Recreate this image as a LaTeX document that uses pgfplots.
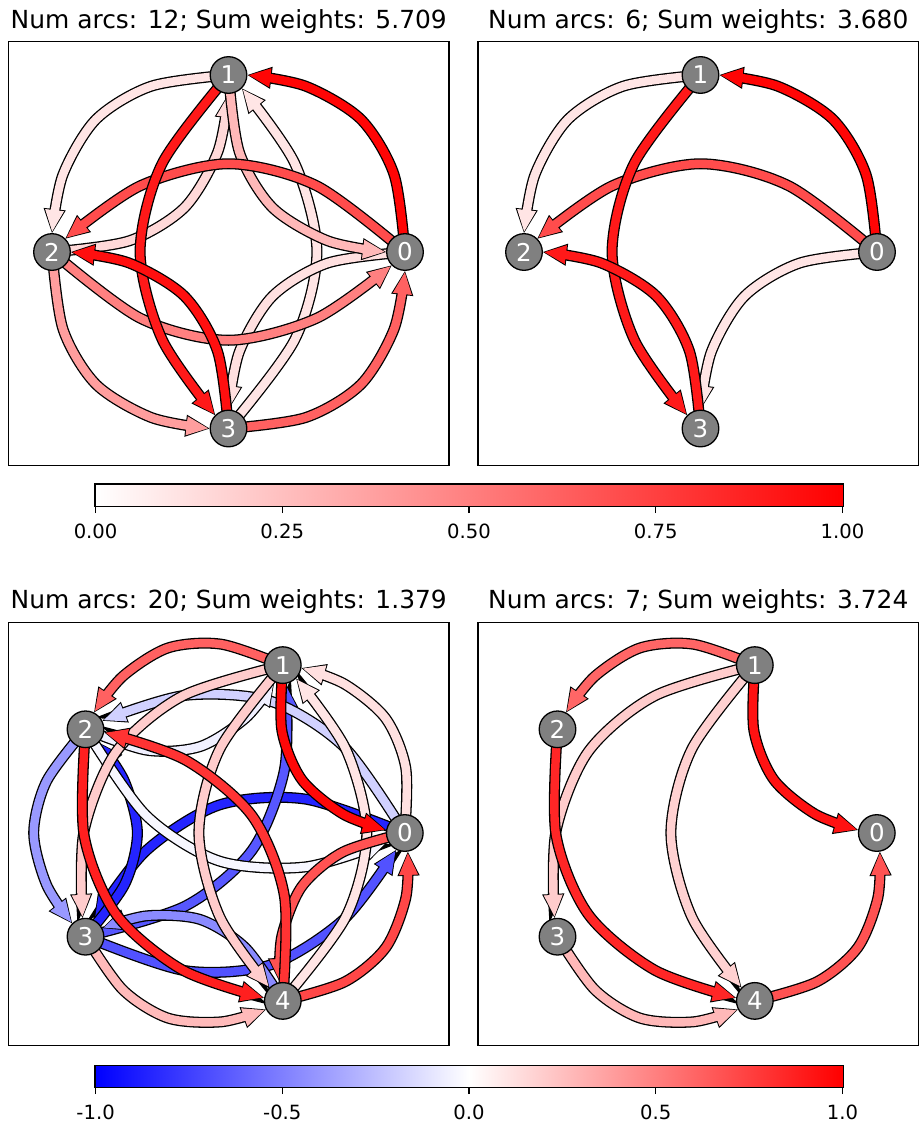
\documentclass[border=0pt]{standalone}
\usepackage{fontspec}
\setmainfont{DejaVu Sans}
\usepackage{pgfplots}
\pgfplotsset{compat=1.18}
\usetikzlibrary{arrows.meta}

\newcommand\titlefont{\fontsize{24.9}{29}\selectfont}
\newcommand\tickfont{\fontsize{19.6}{23}\selectfont}
\newcommand\nodefont{\fontsize{24.5}{29}\selectfont}

% one directed arc: #1 colour, #2 = points along the arc3 curve, ending at the node's rim
\newcommand{\arcplot}[2]{%
 \addplot[black, no markers, line width=11pt, smooth, tension=0.5,
   -{Triangle[length=24pt,width=22pt,color=black,fill=#1,line width=1.3pt]}] coordinates {#2};
 \addplot[#1, no markers, line width=8.4pt, smooth, tension=0.5, shorten >=1.5pt,
   -{Triangle[length=21.5pt,width=19pt,color=#1,fill=#1,line width=0pt]}] coordinates {#2};
}

\pgfplotsset{
 every axis title shift=0pt,
 panel/.style={scale only axis, width=440.5pt, height=423.4pt, y dir=reverse,
   xtick=\empty, ytick=\empty, axis line style={line width=1.2pt}, clip=false,
   title style={font=\titlefont, anchor=base, yshift=13.4pt}},
 gnode/.style={only marks, mark=*, mark size=18.3pt,
   mark options={fill=gray, draw=black, line width=1.3pt},
   nodes near coords, point meta=explicit symbolic,
   every node near coord/.append style={anchor=center, text=white, font=\nodefont}},
 cbar/.style={scale only axis, width=748pt, height=22pt, ymin=-0.03, ymax=1.03, ytick=\empty,
   xtick pos=bottom, tick align=outside, major tick length=7pt,
   tick style={black, line width=1.2pt}, axis line style={line width=1.2pt},
   xticklabel style={font=\tickfont, yshift=-7.5pt}}
}

\begin{document}
\begin{tikzpicture}
\useasboundingbox (0pt,0pt) rectangle (919pt,-1123pt);

% ---------------- panel 1 ----------------
\begin{axis}[panel, at={(8.5pt,-41.7pt)}, anchor=north west,
  xmin=8.5, xmax=449, ymin=41.7, ymax=465.1,
  title={Num arcs: 12; Sum weights: 5.709}]
\arcplot{red!10!white}{(228.5,75) (151.2,86.2) (96.0,119.4) (62.9,174.7) (52.0,233.0)}
\arcplot{red!10!white}{(228.5,428.5) (294.8,339.6) (316.9,251.75) (294.8,163.4) (242.0,88.5)}
\arcplot{red!12!white}{(405,252) (327.8,263.0) (272.6,296.1) (239.5,351.3) (228.5,409.5)}
\arcplot{red!15!white}{(52,252) (129.3,240.8) (184.5,207.6) (217.6,152.3) (228.5,94.0)}
\arcplot{red!28!white}{(228.5,75) (239.4,152.3) (272.5,207.6) (327.7,240.8) (386.0,252.0)}
\arcplot{red!38!white}{(52,252) (63.0,329.2) (96.1,384.4) (151.3,417.5) (209.5,428.5)}
\arcplot{red!50!white}{(52,252) (140.25,318.19) (228.5,340.25) (316.75,318.19) (391.6,265.4)}
\arcplot{red!62!white}{(228.5,428.5) (305.7,417.5) (360.9,384.4) (394.0,329.2) (405,271.0)}
\arcplot{red!70!white}{(405,252) (316.75,185.81) (228.5,163.75) (140.25,185.81) (65.4,238.6)}
\arcplot{red!90!white}{(228.5,75) (162.2,163.4) (140.1,251.75) (162.2,339.6) (215.1,415.1)}
\arcplot{red!94!white}{(228.5,428.5) (217.5,351.3) (184.4,296.1) (129.2,263.0) (71.0,252)}
\arcplot{red!98!white}{(405,252) (394.1,174.7) (361.0,119.4) (305.8,86.2) (247.5,75.0)}
\addplot[gnode] coordinates {(405,252) [0] (228.5,75) [1] (52,252) [2] (228.5,428.5) [3]};
\end{axis}

% ---------------- panel 2 ----------------
\begin{axis}[panel, at={(478pt,-41.7pt)}, anchor=north west,
  xmin=478, xmax=918.5, ymin=41.7, ymax=465.1,
  title={Num arcs: 6; Sum weights: 3.680}]
\arcplot{red!10!white}{(877,252) (799.8,263.0) (744.6,296.1) (711.5,351.3) (700.5,409.5)}
\arcplot{red!10!white}{(700.5,75) (623.2,86.2) (568.0,119.4) (534.9,174.7) (524.0,233.0)}
\arcplot{red!70!white}{(877,252) (788.75,185.81) (700.5,163.75) (612.25,185.81) (537.4,238.6)}
\arcplot{red!90!white}{(700.5,75) (634.2,163.4) (612.1,251.75) (634.2,339.6) (687.1,415.1)}
\arcplot{red!90!white}{(700.5,428.5) (689.5,351.3) (656.4,296.1) (601.2,263.0) (543.0,252)}
\arcplot{red!98!white}{(877,252) (866.1,174.7) (833.0,119.4) (777.8,86.2) (719.5,75.0)}
\addplot[gnode] coordinates {(877,252) [0] (700.5,75) [1] (524,252) [2] (700.5,428.5) [3]};
\end{axis}

% ---------------- colour bar 1 ----------------
\begin{axis}[cbar, at={(95pt,-484pt)}, anchor=north west,
  xmin=-0.0008, xmax=1.0008, xtick={0,0.25,0.5,0.75,1},
  xticklabels={0.00,0.25,0.50,0.75,1.00},
  colormap={wr}{rgb=(1,1,1) rgb=(1,0,0)}]
\addplot[surf, shader=interp, point meta=x, mesh/cols=2] coordinates {(0,0) (1,0) (0,1) (1,1)};
\end{axis}

% ---------------- panel 3 ----------------
\begin{axis}[panel, at={(8.5pt,-622.3pt)}, anchor=north west,
  xmin=8.5, xmax=449, ymin=622.3, ymax=1045.7,
  title={Num arcs: 20; Sum weights: 1.379}]
\arcplot{blue!86!white}{(404.8,833) (305.5,799.1) (219.2,805.0) (145.9,850.9) (94.1,919.8)}
\arcplot{blue!86!white}{(85.5,936.7) (124.4,884.85) (137.4,833) (124.4,781.15) (98.9,742.7)}
\arcplot{blue!68!white}{(85.5,936.7) (184.8,970.6) (271.1,964.7) (344.4,918.8) (396.2,849.9)}
\arcplot{blue!66!white}{(85.5,936.7) (185.8,905.8) (252.1,850.2) (284.4,770.0) (285.8,683.9)}
\arcplot{blue!46!white}{(282.8,1000.9) (245.5,947.9) (200.2,919.5) (146.9,915.8) (102.4,928.1)}
\arcplot{blue!40!white}{(85.5,729.3) (46.6,781.15) (33.7,833) (46.6,884.85) (72.1,923.3)}
\arcplot{blue!18!white}{(404.8,833) (344.4,747.2) (271.1,701.3) (184.8,695.4) (102.4,720.7)}
\arcplot{blue!6!white}{(85.5,729.3) (146.9,750.2) (200.2,746.5) (245.5,718.1) (274.2,682.0)}
\arcplot{blue!3!white}{(85.5,729.3) (145.9,815.1) (219.2,861.0) (305.5,866.9) (387.9,841.6)}
\arcplot{red!10!white}{(282.8,1000.9) (345.8,916.95) (366.8,833) (345.8,749.05) (296.2,678.5)}
\arcplot{red!12!white}{(404.8,833) (405.8,768.2) (385.8,718.6) (344.8,684.2) (301.6,668.1)}
\arcplot{red!20!white}{(282.8,665.1) (182.5,696.0) (116.3,751.6) (83.9,831.8) (82.5,917.9)}
\arcplot{red!20!white}{(282.8,665.1) (219.8,749.05) (198.9,833) (219.8,916.95) (269.4,987.5)}
\arcplot{red!27!white}{(85.5,936.7) (122.8,989.7) (168.1,1018.1) (221.4,1021.8) (265.9,1009.5)}
\arcplot{red!62!white}{(282.8,665.1) (221.4,644.2) (168.1,647.9) (122.8,676.3) (94.1,712.4)}
\arcplot{red!68!white}{(404.8,833) (342.8,852.1) (301.8,886.5) (281.8,936.1) (279.8,982.1)}
\arcplot{red!72!white}{(282.8,1000.9) (344.8,981.8) (385.8,947.5) (405.8,897.9) (407.8,851.8)}
\arcplot{red!80!white}{(282.8,1000.9) (284.4,896.0) (252.1,815.8) (185.8,760.2) (104.3,732.3)}
\arcplot{red!88!white}{(85.5,729.3) (83.9,834.2) (116.3,914.4) (182.5,970.0) (264.0,997.9)}
\arcplot{red!97!white}{(282.8,665.1) (281.8,730.0) (301.8,779.6) (342.8,813.9) (386.0,830.0)}
\addplot[gnode] coordinates {(404.8,833) [0] (282.8,665.1) [1] (85.5,729.3) [2] (85.5,936.7) [3] (282.8,1000.9) [4]};
\end{axis}

% ---------------- panel 4 ----------------
\begin{axis}[panel, at={(478pt,-622.3pt)}, anchor=north west,
  xmin=478, xmax=918.5, ymin=622.3, ymax=1045.7,
  title={Num arcs: 7; Sum weights: 3.724}]
\arcplot{red!18!white}{(754.8,665.1) (691.8,749.05) (670.9,833) (691.8,916.95) (741.4,987.5)}
\arcplot{red!20!white}{(754.8,665.1) (654.5,696.0) (588.3,751.6) (555.9,831.8) (554.5,917.9)}
\arcplot{red!28!white}{(557.5,936.7) (594.8,989.7) (640.1,1018.1) (693.4,1021.8) (737.9,1009.5)}
\arcplot{red!60!white}{(754.8,665.1) (693.4,644.2) (640.1,647.9) (594.8,676.3) (566.1,712.4)}
\arcplot{red!68!white}{(754.8,1000.9) (816.8,981.8) (857.8,947.5) (877.8,897.9) (879.8,851.8)}
\arcplot{red!85!white}{(557.5,729.3) (555.9,834.2) (588.3,914.4) (654.5,970.0) (736.0,997.9)}
\arcplot{red!93!white}{(754.8,665.1) (753.8,730.0) (773.8,779.6) (814.8,813.9) (858.0,830.0)}
\addplot[gnode] coordinates {(876.8,833) [0] (754.8,665.1) [1] (557.5,729.3) [2] (557.5,936.7) [3] (754.8,1000.9) [4]};
\end{axis}

% ---------------- colour bar 2 ----------------
\begin{axis}[cbar, at={(95pt,-1065.5pt)}, anchor=north west, height=21.5pt,
  xmin=-1.0016, xmax=1.0016, xtick={-1,-0.5,0,0.5,1},
  xticklabels={-1.0,-0.5,0.0,0.5,1.0},
  colormap={bwr}{rgb=(0,0,1) rgb=(1,1,1) rgb=(1,0,0)}]
\addplot[surf, shader=interp, point meta=x, mesh/cols=3] coordinates {(-1,0) (0,0) (1,0) (-1,1) (0,1) (1,1)};
\end{axis}
\end{tikzpicture}
\end{document}
